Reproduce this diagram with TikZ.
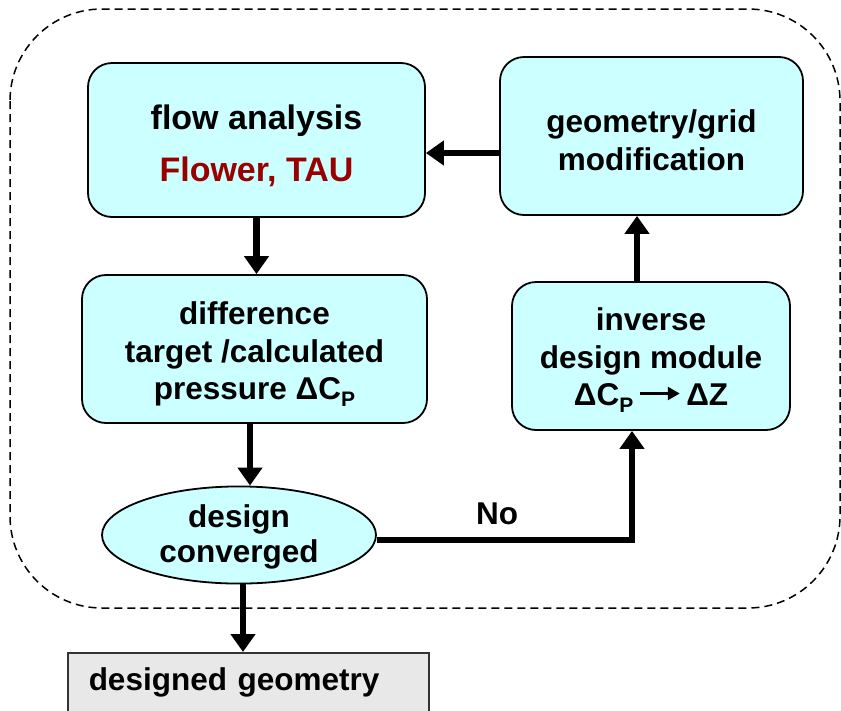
\documentclass[tikz,border=0pt]{standalone}
\usepackage{fontspec}
\setmainfont{Liberation Sans}
\usetikzlibrary{shapes.geometric,arrows.meta}
\definecolor{boxfill}{HTML}{CCFFFF}
\definecolor{taured}{HTML}{990000}
\definecolor{outfill}{HTML}{E8E8E8}
\newcommand{\subP}{{\fontsize{21}{21}\selectfont\raisebox{-7pt}{P}}}
\newcommand{\toprl}[1]{\rule{0pt}{#1}}
\newcommand{\Dl}{\symbol{"0394}}
\begin{document}
\begin{tikzpicture}[x=1pt,y=-1pt,
  box/.style={draw, line width=1.8pt, fill=boxfill, rounded corners=24pt, align=center, inner sep=0pt,
    font=\bfseries\fontsize{31.5}{37.5}\selectfont},
  ellbox/.style={draw, line width=1.8pt, fill=boxfill, ellipse, align=center, inner sep=0pt,
    font=\bfseries\fontsize{31.5}{35}\selectfont},
  outbox/.style={draw=black!80, line width=1.5pt, fill=outfill, align=left, inner ysep=0pt,
    font=\bfseries\fontsize{31.5}{37.5}\selectfont},
  arr/.style={line width=6.5pt, -{Triangle[length=18pt,width=24pt]}},
  border/.style={line width=1.5pt, dash pattern=on 8pt off 5pt, rounded corners=92pt},
  lbl/.style={font=\bfseries\fontsize{31.5}{37.5}\selectfont, inner sep=0pt}
]
\useasboundingbox (0,0) rectangle (841,710);
\clip (0,0) rectangle (841,710);
\draw[border] (10,9) rectangle (840,608);

\node[box, minimum width=337pt, minimum height=154pt, font=\bfseries\fontsize{34}{52}\selectfont] (flow) at (256.5,140)
  {\toprl{37pt}flow analysis\\\textcolor{taured}{Flower, TAU}};
\node[box, minimum width=303pt, minimum height=158pt] (geom) at (651.5,136)
  {\toprl{31pt}geometry/grid\\modification};
\node[box, minimum width=345pt, minimum height=148pt] (diff) at (254.5,349)
  {\toprl{33pt}difference\\target /calculated\\pressure \Dl C\subP};
\node[box, minimum width=278pt, minimum height=148pt] (inv) at (651,356)
  {\toprl{31pt}inverse\\design module\\\Dl C\subP\,\raisebox{5.5pt}{\tikz\draw[line width=2.5pt,-{Triangle[length=12pt,width=13pt]}] (0pt,0pt) -- (40pt,0pt);}\,\Dl Z};
\node[ellbox, minimum width=274pt, minimum height=90pt] (conv) at (239,535)
  {\toprl{27pt}design\\converged};
\node[outbox, anchor=north west, text width=319pt, inner xsep=21pt, text height=38pt, text depth=40pt] (out) at (67,652)
  {designed geometry};

% connectors
\draw[arr] (flow.south) -- (flow.south |- diff.north);
\coordinate (d1) at ([xshift=-4.5pt]diff.south);
\draw[arr] (d1) -- (d1 |- conv.north);
\coordinate (c1) at ([xshift=4pt]conv.south);
\draw[arr] (c1) -- (c1 |- out.north);
\coordinate (c2) at ([yshift=-5pt]conv.east);
\coordinate (i1) at ([xshift=-19pt]inv.south);
\draw[arr] (c2) -| (i1);
\node[lbl] (no) at (497,514) {No};
\coordinate (i2) at ([xshift=-14pt]inv.north);
\draw[arr] (i2) -- (i2 |- geom.south);
\coordinate (g1) at ([yshift=-17pt]geom.west);
\draw[arr] (g1) -- (flow.east |- g1);
\end{tikzpicture}
\end{document}
